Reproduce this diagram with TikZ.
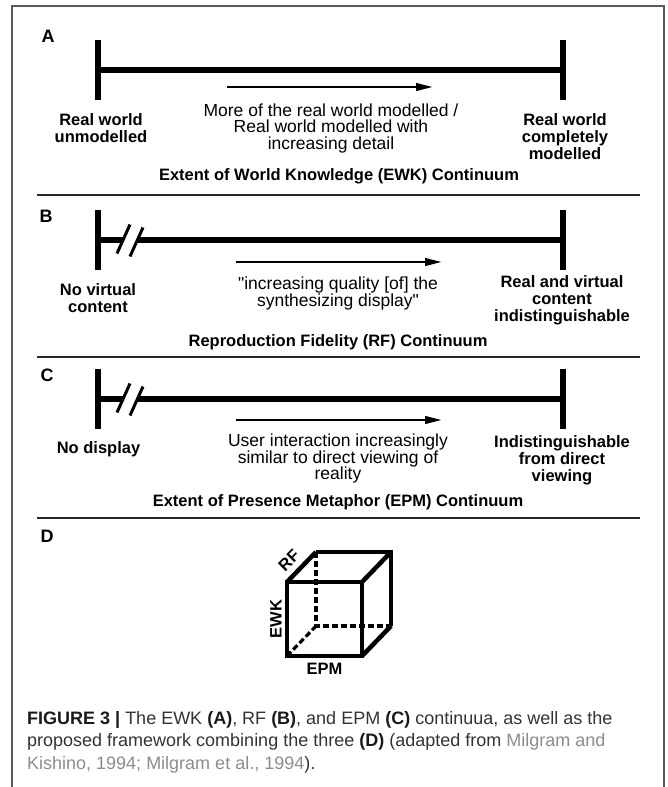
\documentclass[tikz,border=0pt]{standalone}
\usepackage{fontspec}
\setmainfont{Liberation Sans}[Ligatures=TeXOff]
\usetikzlibrary{arrows.meta}
\definecolor{framegray}{HTML}{5A5A5A}
\definecolor{captext}{HTML}{333333}
\definecolor{capbold}{HTML}{1A1A1A}
\definecolor{linkgray}{HTML}{8C8C8C}
\newcommand\capbold[1]{\textbf{\color{capbold}#1}}
\begin{document}
\begin{tikzpicture}[x=1pt,y=-1pt,
  tickline/.style={line width=6pt},
  barline/.style={line width=6pt},
  slashline/.style={line width=3pt},
  dirarrow/.style={line width=2.6pt,-{Triangle[length=17pt,width=7.5pt]}},
  seprule/.style={line width=1.8pt, color=black!85},
  framerule/.style={line width=1.5pt, color=framegray},
  panel/.style={font=\fontsize{18}{20}\selectfont\bfseries, inner sep=0pt},
  midtext/.style={font=\fontsize{17.5}{16.5}\selectfont, align=center, inner sep=0pt},
  endlbl/.style={font=\fontsize{16.5}{17}\selectfont\bfseries, align=center, inner sep=0pt},
  titletext/.style={font=\fontsize{16.5}{17}\selectfont\bfseries, inner sep=0pt},
  cubelbl/.style={font=\fontsize{16.5}{17}\selectfont\bfseries, inner sep=0pt},
  cubeline/.style={line width=4.5pt, line join=miter},
  cubedash/.style={line width=3.2pt, dash pattern=on 6pt off 3pt},
  caprow/.style={font=\fontsize{18}{22}\selectfont, text=captext, inner sep=0pt, anchor=base west}
]
\useasboundingbox (0,0) rectangle (667,787);
% frame
\draw[framerule] (12,787) -- (12,6) -- (664,6) -- (664,787);

% ---------- A ----------
\node[panel] (pA) at (48,36) {A};
\coordinate (aL) at (98,70);
\coordinate (aR) at (563,70);
\draw[barline] (aL) -- (aR);
\draw[tickline] (98,40) -- (98,100);
\draw[tickline] (563,40) -- (563,100);
\coordinate (aS) at (227,87);
\coordinate (aE) at (433,87);
\draw[dirarrow] (aS) -- (aE);
\node[midtext] (aMid) at (331,128) {More of the real world modelled /\\Real world modelled with\\increasing detail};
\node[endlbl] (aLeft) at (101,128.5) {Real world\\unmodelled};
\node[endlbl] (aRight) at (565,137) {Real world\\completely\\modelled};
\node[titletext] (aTitle) at (339,176) {Extent of World Knowledge (EWK) Continuum};
\draw[seprule] (37,195) -- (640,195);

% ---------- B ----------
\node[panel] (pB) at (46,216) {B};
\coordinate (bL) at (98,240);
\coordinate (bG1) at (123,240);
\coordinate (bG2) at (137,240);
\coordinate (bR) at (563,240);
\draw[barline] (bL) -- (bG1);
\draw[barline] (bG2) -- (bR);
\draw[slashline] (117,253.5) -- (130,224.5);
\draw[slashline] (130,256.5) -- (143,227.5);
\draw[tickline] (98,210) -- (98,270);
\draw[tickline] (563,210) -- (563,270);
\coordinate (bS) at (236,262);
\coordinate (bE) at (442,262);
\draw[dirarrow] (bS) -- (bE);
\node[midtext] (bMid) at (338,293.5) {"increasing quality [of] the\\synthesizing display"};
\node[endlbl] (bLeft) at (98,298) {No virtual\\content};
\node[endlbl] (bRight) at (562,300) {Real and virtual\\content\\indistinguishable};
\node[titletext] (bTitle) at (338,342) {Reproduction Fidelity (RF) Continuum};
\draw[seprule] (37,357) -- (640,357);

% ---------- C ----------
\node[panel] (pC) at (47,375) {C};
\coordinate (cL) at (98,399);
\coordinate (cG1) at (123,399);
\coordinate (cG2) at (137,399);
\coordinate (cR) at (563,399);
\draw[barline] (cL) -- (cG1);
\draw[barline] (cG2) -- (cR);
\draw[slashline] (117,412.5) -- (130,383.5);
\draw[slashline] (130,415.5) -- (143,386.5);
\draw[tickline] (98,369) -- (98,429);
\draw[tickline] (563,369) -- (563,429);
\coordinate (cS) at (236,420);
\coordinate (cE) at (442,420);
\draw[dirarrow] (cS) -- (cE);
\node[midtext] (cMid) at (338,458.5) {User interaction increasingly\\similar to direct viewing of\\reality};
\node[endlbl] (cLeft) at (98.5,449) {No display};
\node[endlbl] (cRight) at (562,460) {Indistinguishable\\from direct\\viewing};
\node[titletext] (cTitle) at (338,502) {Extent of Presence Metaphor (EPM) Continuum};
\draw[seprule] (37,518) -- (640,518);

% ---------- D ----------
\node[panel] (pD) at (47,536) {D};
\coordinate (fBL) at (287,656);
\coordinate (fBR) at (362,656);
\coordinate (fTR) at (362,582);
\coordinate (fTL) at (287,582);
\coordinate (bkBL) at (316,626);
\coordinate (bkBR) at (391,626);
\coordinate (bkTR) at (391,552);
\coordinate (bkTL) at (316,552);
\draw[cubedash] (bkTL) -- (bkBL) -- (bkBR);
\draw[cubedash] (fBL) -- (bkBL);
\draw[cubeline] (fBL) -- (fBR) -- (fTR) -- (fTL) -- cycle;
\draw[cubeline] (bkTL) -- (bkTR) -- (bkBR);
\draw[cubeline] (fTL) -- (bkTL);
\draw[cubeline] (fTR) -- (bkTR);
\draw[cubeline] (fBR) -- (bkBR);
\node[cubelbl, rotate=90] (ewk) at (276,619) {EWK};
\node[cubelbl] (epm) at (324.5,669) {EPM};
\node[cubelbl, rotate=45] (rf) at (289,560.5) {RF};

% ---------- caption ----------
\node[caprow] (cap1) at (27,724) {\capbold{FIGURE 3 |} The EWK \capbold{(A)}, RF \capbold{(B)}, and EPM \capbold{(C)} continuua, as well as the};
\node[caprow] (cap2) at (27,746.5) {proposed framework combining the three \capbold{(D)} (adapted from \textcolor{linkgray}{Milgram and}};
\node[caprow] (cap3) at (27,769) {\textcolor{linkgray}{Kishino, 1994; Milgram et al., 1994}).};
\end{tikzpicture}
\end{document}
